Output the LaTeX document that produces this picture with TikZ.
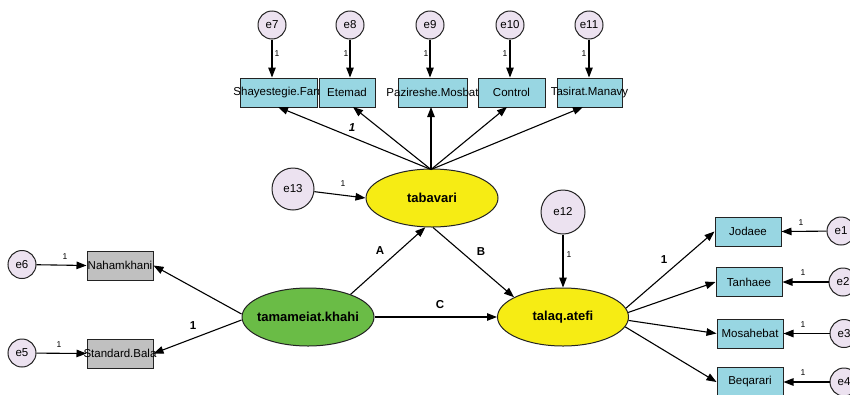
\documentclass[tikz,border=0pt]{standalone}
\usepackage{fontspec}
\setmainfont{Liberation Sans}
\usetikzlibrary{arrows.meta,shapes.geometric}
\definecolor{boxcyan}{RGB}{152,214,226}
\definecolor{boxgray}{RGB}{192,192,192}
\definecolor{errfill}{RGB}{236,226,240}
\definecolor{latyellow}{RGB}{246,236,20}
\definecolor{latgreen}{RGB}{106,188,70}
\definecolor{edge}{RGB}{35,35,35}
\tikzset{
  obsbox/.style={draw=edge, line width=1pt, fill=boxcyan, minimum width=#1, minimum height=29pt, inner sep=0pt},
  graybox/.style={draw=edge, line width=1pt, fill=boxgray, minimum width=66pt, minimum height=29pt, inner sep=0pt},
  errc/.style={draw=edge, line width=1pt, fill=errfill, circle, minimum size=#1, inner sep=0pt, font=\fontsize{11.5}{12}\selectfont},
  latent/.style={draw=edge, line width=1pt, ellipse, minimum width=132pt, minimum height=58pt, inner sep=0pt},
  lattxt/.style={font=\fontsize{13}{14}\selectfont\bfseries},
  boxtxt/.style={font=\fontsize{11.5}{12}\selectfont},
  arr/.style={-{Triangle[length=10pt,width=7.5pt]}, line width=1.1pt, black},
  one/.style={font=\fontsize{8.5}{9}\selectfont, inner sep=0pt},
  bigl/.style={font=\fontsize{11.5}{12}\selectfont\bfseries, inner sep=0pt}
}
\begin{document}
\begin{tikzpicture}[x=1pt,y=-1pt]
\useasboundingbox[fill=white] (0,0) rectangle (850,394);
% top indicators
\node[obsbox=77pt, label={[boxtxt]center:Shayestegie.Fard}] (shay) at (278.5,92.5) {};
\node[obsbox=56pt, label={[boxtxt]center:Etemad}] (etem) at (347,92.5) {};
\node[obsbox=69pt, label={[boxtxt]center:Pazireshe.Mosbat}] (pazi) at (432.5,92.5) {};
\node[obsbox=67pt, label={[boxtxt]center:Control}] (cont) at (511.5,92.5) {};
\node[obsbox=65pt, label={[boxtxt]center:Tasirat.Manavy}] (tasi) at (589.5,92.5) {};
\node[errc=28pt] (e7) at (272,25) {e7};
\node[errc=28pt] (e8) at (350,25) {e8};
\node[errc=28pt] (e9) at (430,25) {e9};
\node[errc=28pt] (e10) at (510,25) {e10};
\node[errc=28pt] (e11) at (589,25) {e11};
\draw[arr] (e7) -- (e7 |- shay.north);
\draw[arr] (e8) -- (e8 |- etem.north);
\draw[arr] (e9) -- (e9 |- pazi.north);
\draw[arr] (e10) -- (e10 |- cont.north);
\draw[arr] (e11) -- (e11 |- tasi.north);
\node[one] (l7) at (277,54) {1};
\node[one] (l8) at (346,54) {1};
\node[one] (l9) at (426,54) {1};
\node[one] (l10) at (505,54) {1};
\node[one] (l11) at (584,54) {1};
% tabavari
\node[latent, fill=latyellow, label={[lattxt]center:tabavari}] (tab) at (432,198) {};
\coordinate (tabtop) at (431,169.5);
\coordinate (tShay) at (278,107);
\coordinate (tEtem) at (353,107);
\coordinate (tPazi) at (431,107);
\coordinate (tCont) at (507,107);
\coordinate (tTasi) at (583,107);
\draw[arr] (tabtop) -- (tShay);
\draw[arr] (tabtop) -- (tEtem);
\draw[arr] (tabtop) -- (tPazi);
\draw[arr] (tabtop) -- (tCont);
\draw[arr] (tabtop) -- (tTasi);
\node[bigl, font=\fontsize{11.5}{12}\selectfont\bfseries\itshape] (lt1) at (352,128) {1};
\node[errc=42pt] (e13) at (293,189) {e13};
\draw[arr] (e13) -- (tab.west);
\node[one] (l13) at (343,184) {1};
% tamameiat
\node[latent, fill=latgreen, label={[lattxt]center:tamameiat.khahi}] (tam) at (308,317) {};
\node[graybox, label={[boxtxt]center:Nahamkhani}] (nah) at (120,265.5) {};
\node[graybox, label={[boxtxt]center:Standard.Bala}] (std) at (120,353.5) {};
\node[errc=28pt] (e6) at (22,264.5) {e6};
\node[errc=28pt] (e5) at (22,353) {e5};
\draw[arr] (e6) -- (nah.west);
\draw[arr] (e5) -- (std.west);
\node[one] (l6) at (65,257) {1};
\node[one] (l5) at (59,345) {1};
\draw[arr] ([yshift=3pt]tam.west) -- (nah.east);
\draw[arr] ([yshift=-3pt]tam.west) -- (std.east);
\node[bigl] (lstd) at (193,326) {1};
% talaq
\node[latent, fill=latyellow, minimum width=131pt, label={[lattxt]center:talaq.atefi}] (tal) at (563,317) {};
\draw[arr] (tam.28) -- (tab.257);
\node[bigl] (lA) at (380,251) {A};
\draw[arr] (tab.272) -- (tal.158);
\node[bigl] (lB) at (481,252) {B};
\draw[arr] (tam.east) -- (tal.west);
\node[bigl] (lC) at (440,305) {C};
\node[errc=44pt] (e12) at (563,212) {e12};
\draw[arr] (e12) -- (tal.north);
\node[one] (l12) at (569,255) {1};
% right indicators
\node[obsbox=66pt, label={[boxtxt]center:Jodaee}] (jod) at (748,231.5) {};
\node[obsbox=66pt, label={[boxtxt]center:Tanhaee}] (tan) at (749,282) {};
\node[obsbox=66pt, label={[boxtxt]center:Mosahebat}] (mos) at (750,333.5) {};
\node[obsbox=66pt, label={[boxtxt]center:Beqarari}] (beq) at (750,382) {};
\draw[arr] (tal.8) -- (jod.west);
\draw[arr] (tal.4) -- (tan.west);
\draw[arr] (tal.-3) -- (mos.west);
\draw[arr] (tal.-9) -- (beq.west);
\node[bigl] (ltal) at (664,260) {1};
\node[errc=28pt] (e1) at (841,231) {e1};
\node[errc=28pt] (e2) at (843,282) {e2};
\node[errc=28pt] (e3) at (844,333.5) {e3};
\node[errc=28pt] (e4) at (844,382) {e4};
\draw[arr] (e1) -- (jod.east);
\draw[arr] (e2) -- (tan.east);
\draw[arr] (e3) -- (mos.east);
\draw[arr] (e4) -- (beq.east);
\node[one] (l1) at (801,223) {1};
\node[one] (l2) at (803,273) {1};
\node[one] (l3) at (803,325) {1};
\node[one] (l4) at (803,373) {1};
\end{tikzpicture}
\end{document}
